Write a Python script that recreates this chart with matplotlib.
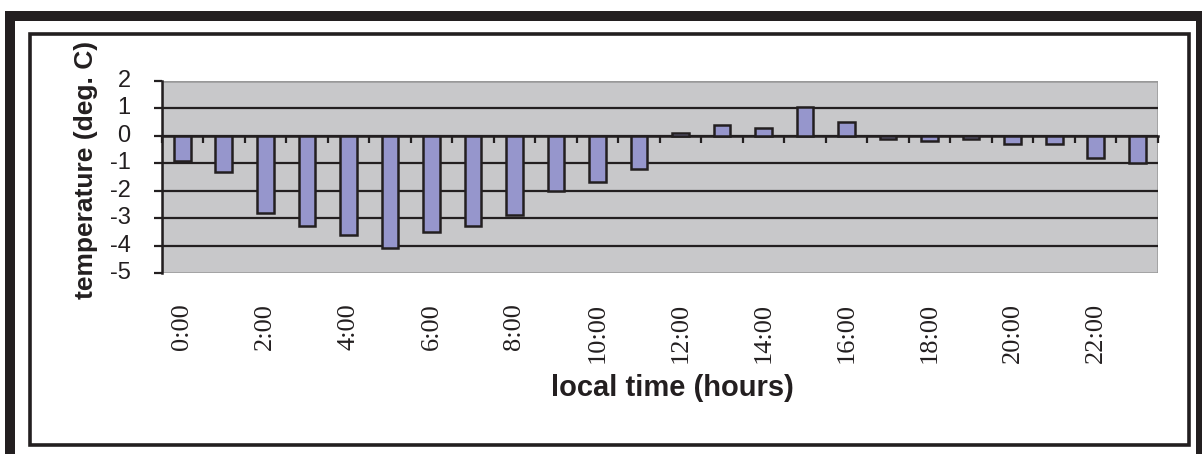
import matplotlib
matplotlib.use("Agg")
import matplotlib.pyplot as plt
from matplotlib.patches import Rectangle
from matplotlib.transforms import blended_transform_factory

plt.rcParams['axes.unicode_minus'] = False

# hourly temperature difference (deg. C)
hours = list(range(24))
temps = [-0.9, -1.3, -2.8, -3.3, -3.6, -4.1, -3.5, -3.3, -2.9, -2.0, -1.7, -1.2,
         0.1, 0.4, 0.3, 1.05, 0.5, -0.1, -0.2, -0.1, -0.3, -0.3, -0.8, -1.0]
hour_labels = ["%d:00" % h for h in hours]
y_ticks = [-5, -4, -3, -2, -1, 0, 1, 2]

W, H = 1202, 454
ink = '#231f20'

fig = plt.figure(figsize=(W / 100, H / 100), dpi=100)
fig.patch.set_facecolor('white')


def box(x0, y0, x1, y1, **kw):
    # rectangle in pixel coords (origin top-left)
    r = Rectangle((x0 / W, 1 - y1 / H), (x1 - x0) / W, (y1 - y0) / H,
                  transform=fig.transFigure, **kw)
    fig.add_artist(r)


# outer thick frame (cropped at the bottom)
box(5, 11, 15, 454, color=ink, lw=0)
box(5, 11, 1202, 21, color=ink, lw=0)
box(1196, 11, 1202, 454, color=ink, lw=0)
# inner thin frame
box(29.5, 33.5, 1189, 445, fill=False, edgecolor=ink, lw=2.6)

ax = fig.add_axes([161.5 / W, 1 - 273 / H, (1158 - 161.5) / W, (273 - 81) / H])
ax.set_facecolor('#c8c8ca')

ax.bar(hours, temps, width=0.4, color='#9696cc', edgecolor=ink, linewidth=1.8, zorder=3)

ax.set_xlim(-0.5, 23.5)
ax.set_ylim(-5, 2)

# gridlines, only the inner ones (border is grey)
for v in y_ticks[1:-1]:
    ax.axhline(v, color=ink, lw=1.6, zorder=1)

for s in ['top', 'right']:
    ax.spines[s].set_visible(False)
ax.spines['left'].set_color(ink)
ax.spines['left'].set_linewidth(1.8)
ax.spines['left'].set_zorder(4)
ax.spines['bottom'].set_position(('data', 0))
ax.spines['bottom'].set_color(ink)
ax.spines['bottom'].set_linewidth(1.8)
ax.spines['bottom'].set_zorder(2)

# grey plot-area border
ax.add_patch(Rectangle((0, 0), 1, 1, transform=ax.transAxes, fill=False,
                       edgecolor='#999999', lw=1.8, zorder=0.5))

ax.set_yticks(y_ticks)
ax.tick_params(axis='y', direction='out', length=6, width=1.6, color=ink, labelleft=False)
ax.set_xticks([h - 0.5 for h in hours] + [23.5])
ax.tick_params(axis='x', direction='out', length=5, width=1.6, color=ink, labelbottom=False)

ytrans = blended_transform_factory(ax.transAxes, ax.transData)
for v in y_ticks:
    ax.text(-0.031, v, str(v), transform=ytrans, ha='right', va='center',
            family='Liberation Sans', fontsize=17, color=ink)

xtrans = blended_transform_factory(ax.transData, ax.transAxes)
for h in hours:
    if h % 2 == 0:
        ax.text(h, -0.156, hour_labels[h], transform=xtrans, rotation=90,
                ha='center', va='top', family='Liberation Serif', fontsize=19, color=ink)

fig.text(86 / W, 1 - 170 / H, 'temperature (deg. C)', rotation=90, ha='center', va='center',
         family='Liberation Sans', fontweight='bold', fontsize=19, color=ink)
fig.text(672 / W, 1 - 388 / H, 'local time (hours)', ha='center', va='center',
         family='Liberation Sans', fontweight='bold', fontsize=21, color=ink)

fig.savefig('out.png', dpi=100)
